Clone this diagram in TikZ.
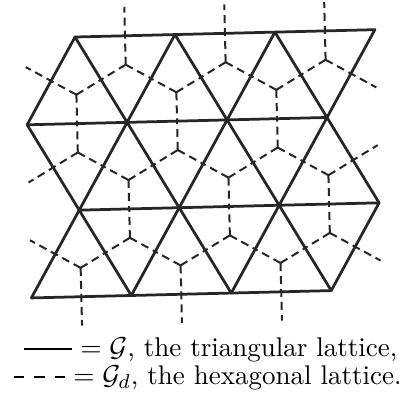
\documentclass[tikz,border=0pt]{standalone}
\usetikzlibrary{calc}
\newcommand\halfedges[2]{%
  \draw[dual] (#1) -- ($(#1)!0.5!(#2)$);
  \draw[dual] (#2) -- ($(#1)!0.5!(#2)$);}
\begin{document}
\begin{tikzpicture}[x=0.4pt,y=-0.4pt,
  tri/.style={line width=1.1pt, draw=black!85, line cap=round, line join=round},
  dual/.style={line width=0.8pt, draw=black!85, dash pattern=on 3.2pt off 2pt},
  lbl/.style={anchor=base west, inner sep=0pt, font=\fontsize{10.8}{13}\selectfont}]
\useasboundingbox (0,0) rectangle (401,403);
\begin{scope}[shift={(75,37)}, rotate=1.4]
  % triangular lattice vertices
  \foreach \r in {0,1,2,3} {
    \foreach \i in {0,1,2,3} {
      \coordinate (v-\r-\i) at ({100*\i-50*mod(\r,2)}, {86.6*\r});
    }
  }
  % centroids (hexagonal lattice vertices)
  \foreach \b in {0,1,2} {
    \foreach \k in {0,...,5} {
      \pgfmathsetmacro\cy{86.6*\b + 28.87 + 28.87*(1-mod(\b+\k,2))}
      \coordinate (c-\b-\k) at (50*\k, \cy);
    }
  }
  % free ends of the hexagonal lattice
  \coordinate (cL-0) at (-50, 28.87);
  \coordinate (cL-1) at (-50, 144.34);
  \coordinate (cL-2) at (-50, 202.07);
  \coordinate (cR-0) at (300, 57.74);
  \coordinate (cR-1) at (300, 115.47);
  \coordinate (cR-2) at (300, 230.94);
  \foreach \k in {1,3,5} { \coordinate (cT-\k) at (50*\k, -28.87); }
  \foreach \k in {0,2,4} { \coordinate (cB-\k) at (50*\k, 288.67); }

  % hexagonal lattice (dashed)
  \foreach \b in {0,1,2} {
    \foreach \k [evaluate=\k as \kn using int(\k+1)] in {0,...,4} {
      \halfedges{c-\b-\k}{c-\b-\kn}
    }
    \draw[dual] (c-\b-0) -- (cL-\b);
    \draw[dual] (c-\b-5) -- (cR-\b);
  }
  \foreach \k in {0,2,4} { \halfedges{c-0-\k}{c-1-\k} }
  \foreach \k in {1,3,5} { \halfedges{c-1-\k}{c-2-\k} }
  \foreach \k in {1,3,5} { \draw[dual] (c-0-\k) -- (cT-\k); }
  \foreach \k in {0,2,4} { \draw[dual] (c-2-\k) -- (cB-\k); }

  % triangular lattice (solid)
  \foreach \r in {0,1,2,3} {
    \draw[tri] (v-\r-0) -- (v-\r-1) -- (v-\r-2) -- (v-\r-3);
  }
  \foreach \r [evaluate=\r as \rn using int(\r+1)] in {0,2} {
    \foreach \i in {0,1,2,3} { \draw[tri] (v-\r-\i) -- (v-\rn-\i); }
    \foreach \i [evaluate=\i as \in using int(\i+1)] in {0,1,2} { \draw[tri] (v-\r-\i) -- (v-\rn-\in); }
  }
  \foreach \i in {0,1,2,3} { \draw[tri] (v-1-\i) -- (v-2-\i); }
  \foreach \i [evaluate=\i as \ip using int(\i-1)] in {1,2,3} { \draw[tri] (v-1-\i) -- (v-2-\ip); }
\end{scope}

% legend
\coordinate (s1) at (24,349); \coordinate (s2) at (72,349);
\draw[line width=0.45pt] (s1) -- (s2);
\coordinate (d1) at (14,377); \coordinate (d2) at (66,377);
\draw[line width=0.45pt, dash pattern=on 4.2pt off 4pt] (d1) -- (d2);
\node[lbl] (l1) at (80,356) {$=\mathcal{G}$, the triangular lattice,};
\node[lbl] (l2) at (73,384) {$=\mathcal{G}_d$, the hexagonal lattice.};
\end{tikzpicture}
\end{document}
